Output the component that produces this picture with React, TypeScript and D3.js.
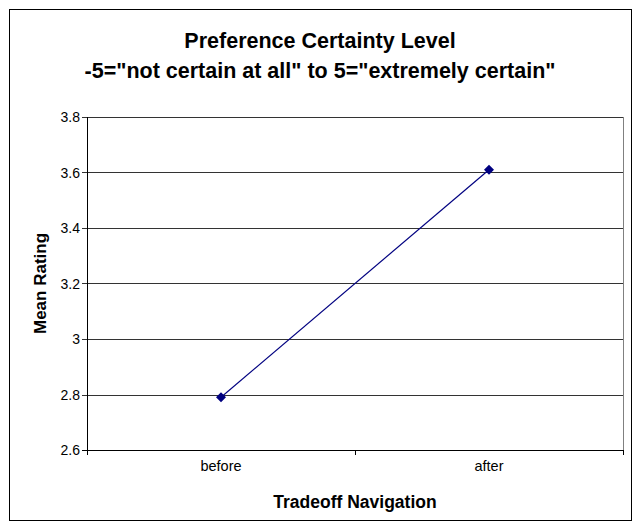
import React from 'react';
import { scaleLinear, scalePoint, line } from 'd3';

const categories = ['before', 'after'];
const meanRatings = [2.79, 3.61];
const yTicks = [2.6, 2.8, 3.0, 3.2, 3.4, 3.6, 3.8];
const titleLines = ['Preference Certainty Level', '-5="not certain at all" to 5="extremely certain"'];

const width = 637;
const height = 529;
const plot = { left: 87, right: 623, top: 117, bottom: 450 };
const font = '"Liberation Sans", Arial, sans-serif';

export default function App() {
  const yScale = scaleLinear().domain([2.6, 3.8]).range([plot.bottom, plot.top]);
  const xScale = scalePoint<string>()
    .domain(categories)
    .range([plot.left, plot.right])
    .padding(0.5);

  const data = categories.map((c, i) => ({ c, v: meanRatings[i] }));
  const path = line<{ c: string; v: number }>()
    .x(d => xScale(d.c)!)
    .y(d => yScale(d.v))(data);
  const diamond = 'M0,-5L5,0L0,5L-5,0Z';

  const xTickPos = [plot.left, (plot.left + plot.right) / 2, plot.right];

  return (
    <svg width={width} height={height} style={{ position: 'absolute', left: 0, top: 0 }} fontFamily={font}>
      <rect x={0} y={0} width={width} height={height} fill="#fff" />
      <rect x={9.5} y={9.5} width={622} height={511} fill="#fff" stroke="#000" strokeWidth={1} />

      {titleLines.map((t, i) => (
        <text key={i} x={320} y={48 + i * 30} textAnchor="middle" fontSize={21.5} fontWeight="bold">
          {t}
        </text>
      ))}

      {/* grid + y ticks */}
      {yTicks.map(t => (
        <g key={t}>
          <line x1={plot.left - 5} x2={plot.right} y1={Math.round(yScale(t)) + 0.5} y2={Math.round(yScale(t)) + 0.5} stroke={t === 2.6 ? '#000' : '#333'} />
          <text x={plot.left - 7} y={yScale(t) + 5} textAnchor="end" fontSize={14}>
            {String(+t.toFixed(1))}
          </text>
        </g>
      ))}
      <line x1={plot.right + 0.5} x2={plot.right + 0.5} y1={plot.top} y2={plot.bottom} stroke="#808080" />
      <line x1={plot.left + 0.5} x2={plot.left + 0.5} y1={plot.top} y2={plot.bottom} stroke="#000" />

      {xTickPos.map((x, i) => (
        <line key={i} x1={Math.round(x) + 0.5} x2={Math.round(x) + 0.5} y1={plot.bottom} y2={plot.bottom + 5} stroke="#000" />
      ))}
      {categories.map(c => (
        <text key={c} x={xScale(c)} y={plot.bottom + 21} textAnchor="middle" fontSize={14.5}>
          {c}
        </text>
      ))}

      <path d={path ?? ''} fill="none" stroke="#000080" strokeWidth={1.2} />
      {data.map(d => (
        <path key={d.c} d={diamond} transform={`translate(${xScale(d.c)},${yScale(d.v)})`} fill="#000080" />
      ))}

      <text x={355} y={508} textAnchor="middle" fontSize={17.5} fontWeight="bold">
        Tradeoff Navigation
      </text>
      <text transform={`translate(46,${(plot.top + plot.bottom) / 2}) rotate(-90)`} textAnchor="middle" fontSize={17} fontWeight="bold">
        Mean Rating
      </text>
    </svg>
  );
}
